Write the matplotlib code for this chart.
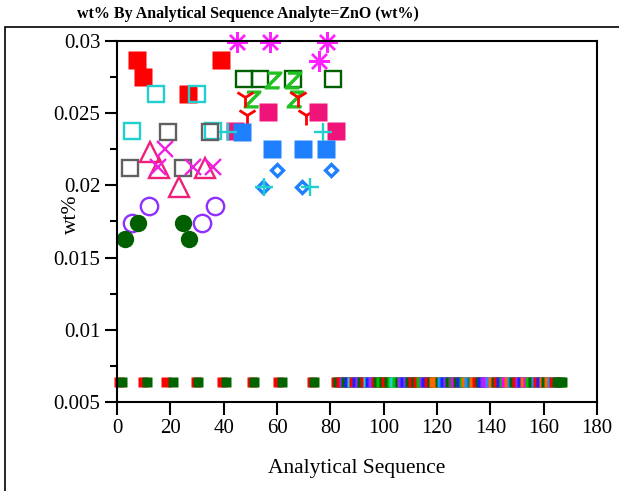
import matplotlib.pyplot as plt
from matplotlib.patches import Rectangle

plt.rcParams['font.family'] = ['Liberation Serif', 'DejaVu Serif']

# upper cluster, one list pair per series
red_sq_x = [7.4, 9.6, 38.9, 26.7]
red_sq_y = [0.0287, 0.0275, 0.0287, 0.0263]
cyan_osq_x = [14.6, 29.9, 5.6, 36.1]
cyan_osq_y = [0.0263, 0.0263, 0.0238, 0.0238]
gray_osq_x = [19.2, 34.9, 4.9, 24.9]
gray_osq_y = [0.0237, 0.0237, 0.0212, 0.0212]
pink_tri_x = [12.4, 15.9, 33.0, 23.2]
pink_tri_y = [0.0223, 0.0212, 0.0212, 0.0199]
mag_x_x = [18.0, 15.5, 28.6, 36.1]
mag_x_y = [0.0225, 0.0213, 0.0213, 0.0213]
purple_o_x = [12.0, 36.7, 5.7, 32.0]
purple_o_y = [0.0186, 0.0186, 0.0174, 0.0174]
dgreen_o_x = [8.0, 24.9, 3.0, 27.0]
dgreen_o_y = [0.0174, 0.0174, 0.0163, 0.0163]
mag_ast_x = [44.9, 57.4, 78.6, 75.7]
mag_ast_y = [0.0299, 0.0299, 0.0299, 0.0286]
dgreen_osq_x = [47.6, 53.6, 66.1, 81.1]
dgreen_osq_y = [0.0274, 0.0274, 0.0274, 0.0274]
green_z_x = [58.4, 66.1, 50.5, 66.7]
green_z_y = [0.0273, 0.0273, 0.0260, 0.0260]
red_y_x = [48.0, 68.0, 48.6, 70.9]
red_y_y = [0.0261, 0.0261, 0.0249, 0.0249]
pink_sq_x = [56.5, 75.2, 82.1, 44.2]
pink_sq_y = [0.0251, 0.0251, 0.0238, 0.0238]
blue_sq_x = [46.8, 58.0, 69.9, 78.4]
blue_sq_y = [0.0237, 0.0225, 0.0225, 0.0225]
blue_d_x = [59.9, 80.1, 54.6, 69.2]
blue_d_y = [0.0211, 0.0211, 0.0199, 0.0199]
cyan_plus_x = [55.0, 72.4, 41.7, 77.4]
cyan_plus_y = [0.0199, 0.0199, 0.0237, 0.0237]

# bottom row (values at the floor)
floor_y = 0.0064
floor_red_x = [0.8, 9.7, 18.5, 29.6, 39.2, 50.5, 60.5, 73.0]
floor_green_x = [1.9, 11.2, 21.0, 30.4, 41.0, 51.5, 62.0, 74.0]
floor_x = [82, 83, 84, 85, 86, 87, 88, 89, 90, 91, 92, 93, 94, 95, 96, 97,
           98, 99, 100, 101, 102, 103, 104, 105, 106, 107, 108, 109, 110,
           111, 112, 113, 114, 115, 116, 117, 118, 119, 120, 121, 122, 123,
           124, 125, 126, 127, 128, 129, 130, 131, 132, 133, 134, 135, 136,
           137, 138, 139, 140, 141, 142, 143, 144, 145, 146, 147, 148, 149,
           150, 151, 152, 153, 154, 155, 156, 157, 158, 159, 160, 161, 162,
           163, 164, 165, 166, 167]
floor_c = ['#FF0000', '#006400', '#FF0000', '#9030FF', '#006400', '#2020FF',
           '#20D0D0', '#FF0000', '#2020FF', '#9030FF', '#006400', '#FF0000',
           '#20D0D0', '#2020FF', '#9030FF', '#FF0000', '#006400', '#00C000',
           '#006400', '#FF0000', '#006400', '#00C000', '#20D0D0', '#00C000',
           '#006400', '#9030FF', '#2020FF', '#9030FF', '#006400', '#FF0000',
           '#006400', '#FF0000', '#00C000', '#9030FF', '#2020FF', '#FF0000',
           '#006400', '#FF6600', '#FF6600', '#006400', '#1E90FF', '#2020FF',
           '#9030FF', '#006400', '#606060', '#FF00FF', '#006400', '#2020FF',
           '#00C000', '#FF6600', '#1E90FF', '#008060', '#FF6600', '#FF0000',
           '#006400', '#2020FF', '#9030FF', '#FF00FF', '#1E90FF', '#FF6600',
           '#006400', '#FF0000', '#2020FF', '#00C000', '#FF00FF', '#FF6600',
           '#1E90FF', '#006400', '#FF0000', '#9030FF', '#2020FF', '#FF6600',
           '#FF00FF', '#00C000', '#006400', '#1E90FF', '#FF0000', '#2020FF',
           '#FF6600', '#006400', '#FF6600', '#1E90FF', '#FF0000', '#006400',
           '#006400', '#006400', '#006400']

fig = plt.figure(figsize=(6.19, 4.91), dpi=100)
fig.patches.append(Rectangle((5 / 619, -0.1), 2, 1.1 - 27 / 491, transform=fig.transFigure,
                             fill=False, lw=1.2, ec='black'))
ax = fig.add_axes([117 / 619, 89 / 491, 480 / 619, 361 / 491])

kw = dict(ls='none', clip_on=False)
ax.plot(floor_red_x, [floor_y] * len(floor_red_x), marker='s', ms=7.5, mec='none', color='#FF0000', **kw)
ax.plot(floor_green_x, [floor_y] * len(floor_green_x), marker='s', ms=7.5, mec='none', color='#006400', **kw)
for x, c in zip(floor_x, floor_c):
    ax.plot([x], [floor_y], marker='s', ms=7.5, mec='none', color=c, **kw)

ax.plot(red_sq_x, red_sq_y, marker='s', ms=12.5, mec='none', color='#FF0000', **kw)
ax.plot(cyan_osq_x, cyan_osq_y, marker='s', ms=12, mfc='none', mec='#20D0D0', mew=1.7, **kw)
ax.plot(gray_osq_x, gray_osq_y, marker='s', ms=12, mfc='none', mec='#606060', mew=1.7, **kw)
ax.plot(pink_tri_x, pink_tri_y, marker='^', ms=14, mfc='none', mec='#F0207A', mew=1.7, **kw)
ax.plot(mag_x_x, mag_x_y, marker='x', ms=12, mec='#F020E0', mew=1.7, **kw)
ax.plot(purple_o_x, purple_o_y, marker='o', ms=12.5, mfc='none', mec='#9030FF', mew=1.7, **kw)
ax.plot(dgreen_o_x, dgreen_o_y, marker='o', ms=12.5, mec='none', color='#006000', **kw)
ax.plot(mag_ast_x, mag_ast_y, marker=(8, 2, 0), ms=15, mec='#FF20FF', mew=1.7, **kw)
ax.plot(dgreen_osq_x, dgreen_osq_y, marker='s', ms=12, mfc='none', mec='#006000', mew=1.7, **kw)
ax.plot(green_z_x, green_z_y, marker='$Z$', ms=12, color='#20C020', **kw)
ax.plot(red_y_x, red_y_y, marker='1', ms=15, mec='#FF0000', mew=2, **kw)
ax.plot(pink_sq_x, pink_sq_y, marker='s', ms=12.5, mec='none', color='#F0147A', **kw)
ax.plot(blue_sq_x, blue_sq_y, marker='s', ms=12.5, mec='none', color='#1E80FF', **kw)
ax.plot(blue_d_x, blue_d_y, marker='D', ms=6.5, mfc='none', mec='#1E80FF', mew=2.4, **kw)
ax.plot(cyan_plus_x, cyan_plus_y, marker='+', ms=13, mec='#20D0D0', mew=1.7, **kw)

ax.set_xlim(0, 180)
ax.set_ylim(0.005, 0.03)
ax.set_xticks([0, 20, 40, 60, 80, 100, 120, 140, 160, 180])
ax.set_yticks([0.005, 0.01, 0.015, 0.02, 0.025, 0.03])
ax.set_yticklabels(['0.005', '0.01', '0.015', '0.02', '0.025', '0.03'])
ax.set_yticks([0.0075, 0.0125, 0.0175, 0.0225, 0.0275], minor=True)
ax.tick_params(axis='both', which='major', labelsize=15, width=1.5, length=9, pad=3)
ax.tick_params(axis='y', which='minor', width=1.5, length=5)
for s in ax.spines.values():
    s.set_linewidth(1.5)

ax.set_xlabel('Analytical Sequence', fontsize=15.5, labelpad=15)
ax.set_ylabel('wt%', fontsize=15.5)
ax.yaxis.set_label_coords(-0.076, 0.52)
fig.text(248 / 619, 1 - 14 / 491, 'wt% By Analytical Sequence Analyte=ZnO (wt%)',
         ha='center', va='center', fontsize=11.5, fontweight='bold')

fig.savefig('out.png', dpi=100)
